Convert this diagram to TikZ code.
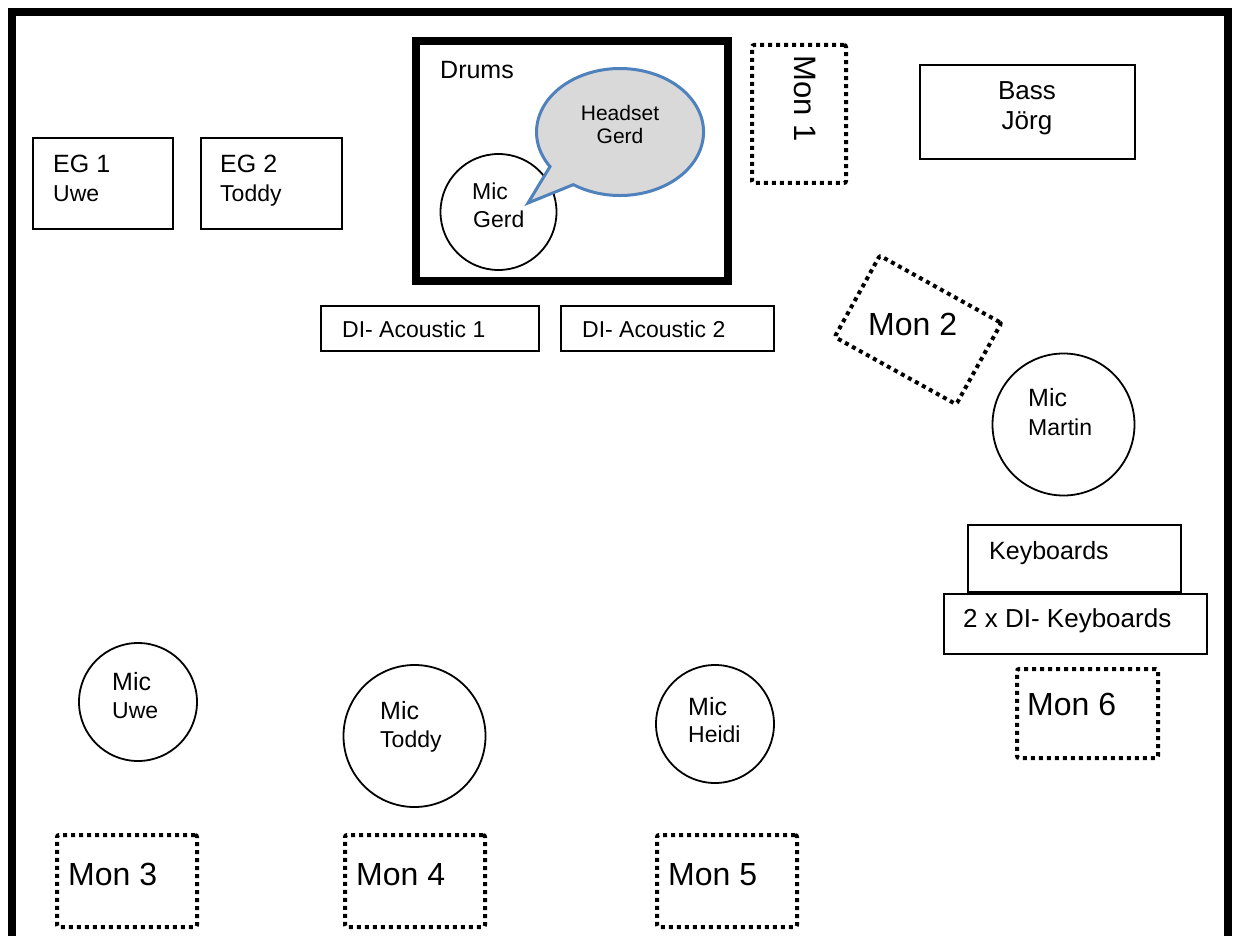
\documentclass[tikz,border=0pt]{standalone}
\usepackage{fontspec}
\setmainfont{Liberation Sans}
\definecolor{bubblefill}{RGB}{217,217,217}
\definecolor{bubbleline}{RGB}{79,129,189}
\tikzset{
  thinbox/.style={draw=black, line width=1.8pt, minimum width=#1},
  thickbox/.style={draw=black, line width=8pt},
  dotbox/.style={draw=black, line width=4pt, dash pattern=on 4pt off 4pt, rounded corners=2pt},
  micc/.style={circle, draw=black, line width=1.8pt, inner sep=0pt},
  lbl/.style={inner sep=0pt, anchor=base west},
  clbl/.style={inner sep=0pt, anchor=base},
  fA/.style={font=\fontsize{25}{30}\selectfont},
  fB/.style={font=\fontsize{23}{28}\selectfont},
  fC/.style={font=\fontsize{26}{31}\selectfont},
  fH/.style={font=\fontsize{21}{25}\selectfont},
  fM/.style={font=\fontsize{32}{38}\selectfont},
}
\begin{document}
\begin{tikzpicture}[x=1pt,y=-1pt]
\useasboundingbox (0,0) rectangle (1234,936);
\fill[white] (0,0) rectangle (1234,936);
% stage border (open at the bottom)
\draw[line width=8pt] (12,960) -- (12,12) -- (1228,12) -- (1228,960);

% EG boxes
\node[draw, line width=1.8pt, minimum width=140pt, minimum height=91pt] (eg1) at (103,183.5) {};
\node[lbl,fA] (eg1a) at (53,173) {EG 1};
\node[lbl,fB] (eg1b) at (53,202) {Uwe};
\node[draw, line width=1.8pt, minimum width=141pt, minimum height=91pt] (eg2) at (271.5,183.5) {};
\node[lbl,fA] (eg2a) at (220,173) {EG 2};
\node[lbl,fB] (eg2b) at (220,202) {Toddy};

% Drums
\node[thickbox, minimum width=312pt, minimum height=240pt] (drums) at (572,161) {};
\node[lbl,fA] (drumslbl) at (440,79) {Drums};
\node[micc, minimum size=116pt] (micgerd) at (498.5,212) {};
\node[lbl,fB] (micgerda) at (472,200) {Mic};
\node[lbl,fB] (micgerdb) at (473,227) {Gerd};
% speech bubble
\draw[fill=bubblefill, draw=bubbleline, line width=3pt, line join=miter]
  (550.0,166.6) arc[start angle=147, end angle=484, x radius=83.5, y radius=63.5] -- (528,203) -- cycle;
\node[clbl,fH] (headseta) at (620,121) {Headset};
\node[clbl,fH] (headsetb) at (620,144) {Gerd};

% Mon 1
\node[dotbox, minimum width=94pt, minimum height=138pt] (mon1) at (799,114) {};
\node[inner sep=0pt, rotate=-90, font=\fontsize{31}{36}\selectfont] (mon1lbl) at (805.5,98.5) {Mon 1};

% Bass
\node[draw, line width=1.8pt, minimum width=215pt, minimum height=94pt] (bass) at (1027.5,112) {};
\node[clbl,fC] (bassa) at (1027,100) {Bass};
\node[clbl,fC] (bassb) at (1027,130) {Jörg};

% DI acoustic
\node[draw, line width=1.8pt, minimum width=218pt, minimum height=45pt] (di1) at (430,328.5) {};
\node[lbl,fB] (di1lbl) at (342,337) {DI- Acoustic 1};
\node[draw, line width=1.8pt, minimum width=213pt, minimum height=45pt] (di2) at (667.5,328.5) {};
\node[lbl,fB] (di2lbl) at (582,337) {DI- Acoustic 2};

% Mon 2
\node[dotbox, minimum width=139pt, minimum height=93pt, rotate=-29] (mon2) at (918,330) {};
\node[lbl,fM] (mon2lbl) at (868,335) {Mon 2};

% Mic Martin
\node[micc, minimum size=142pt] (micmartin) at (1063.5,424.5) {};
\node[lbl,fA] (micmartina) at (1028,406) {Mic};
\node[lbl,fB] (micmartinb) at (1028,435) {Martin};

% Keyboards
\node[draw, line width=1.8pt, minimum width=263pt, minimum height=60pt] (dikeys) at (1075.5,624) {};
\node[draw, line width=1.8pt, minimum width=213pt, minimum height=67pt] (keys) at (1074.5,558.5) {};
\node[lbl,fA] (keyslbl) at (989,559) {Keyboards};
\node[lbl,fC] (dikeyslbl) at (963,627) {2 x DI- Keyboards};

% Mon 6
\node[dotbox, minimum width=141pt, minimum height=89pt] (mon6) at (1087.5,713.5) {};
\node[lbl,fM] (mon6lbl) at (1027,715) {Mon 6};

% Vocal mics
\node[micc, minimum size=118pt] (micuwe) at (138,702) {};
\node[lbl,fA] (micuwea) at (112,690) {Mic};
\node[lbl,fB] (micuweb) at (112,718) {Uwe};
\node[micc, minimum size=142pt] (mictoddy) at (414.5,736) {};
\node[lbl,fA] (mictoddya) at (380,719) {Mic};
\node[lbl,fB] (mictoddyb) at (380,747) {Toddy};
\node[micc, minimum size=118pt] (micheidi) at (715,724) {};
\node[lbl,fA] (micheidia) at (688,715) {Mic};
\node[lbl,fB] (micheidib) at (688,742) {Heidi};

% Floor monitors
\node[dotbox, minimum width=140pt, minimum height=92pt] (mon3) at (127,881) {};
\node[lbl,fM] (mon3lbl) at (68,885) {Mon 3};
\node[dotbox, minimum width=140pt, minimum height=92pt] (mon4) at (415,881) {};
\node[lbl,fM] (mon4lbl) at (356,885) {Mon 4};
\node[dotbox, minimum width=140pt, minimum height=92pt] (mon5) at (727,881) {};
\node[lbl,fM] (mon5lbl) at (668,885) {Mon 5};
\end{tikzpicture}
\end{document}
